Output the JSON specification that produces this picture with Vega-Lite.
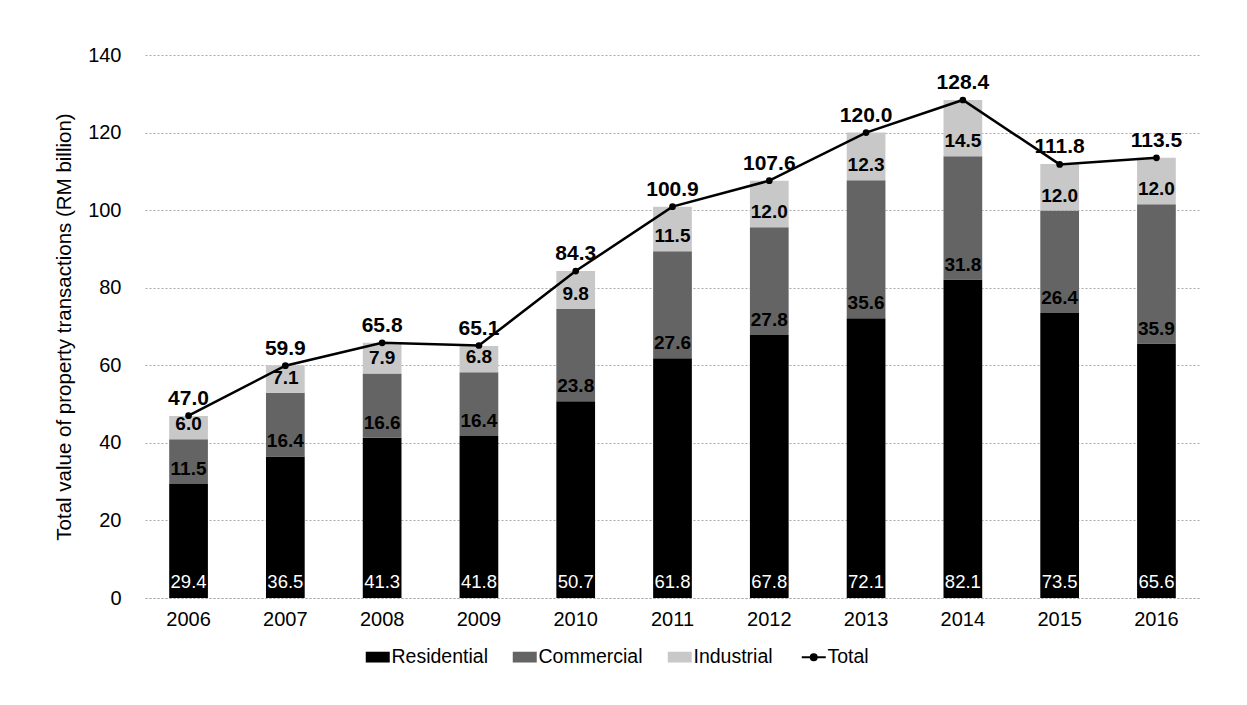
{
  "$schema": "https://vega.github.io/schema/vega-lite/v6.json",
  "width": 1055,
  "height": 543,
  "autosize": {"type": "none"},
  "padding": {"left": 145, "top": 55, "right": 47, "bottom": 107},
  "background": "white",
  "config": {
    "font": "Liberation Sans",
    "view": {"stroke": null},
    "axis": {"labelFont": "Liberation Sans", "titleFont": "Liberation Sans", "labelColor": "#000", "titleColor": "#000"}
  },
  "datasets": {
    "parts": [
      {"year": "2006", "type": "Residential", "value": 29.4},
      {"year": "2006", "type": "Commercial", "value": 11.5},
      {"year": "2006", "type": "Industrial", "value": 6.0},
      {"year": "2007", "type": "Residential", "value": 36.5},
      {"year": "2007", "type": "Commercial", "value": 16.4},
      {"year": "2007", "type": "Industrial", "value": 7.1},
      {"year": "2008", "type": "Residential", "value": 41.3},
      {"year": "2008", "type": "Commercial", "value": 16.6},
      {"year": "2008", "type": "Industrial", "value": 7.9},
      {"year": "2009", "type": "Residential", "value": 41.8},
      {"year": "2009", "type": "Commercial", "value": 16.4},
      {"year": "2009", "type": "Industrial", "value": 6.8},
      {"year": "2010", "type": "Residential", "value": 50.7},
      {"year": "2010", "type": "Commercial", "value": 23.8},
      {"year": "2010", "type": "Industrial", "value": 9.8},
      {"year": "2011", "type": "Residential", "value": 61.8},
      {"year": "2011", "type": "Commercial", "value": 27.6},
      {"year": "2011", "type": "Industrial", "value": 11.5},
      {"year": "2012", "type": "Residential", "value": 67.8},
      {"year": "2012", "type": "Commercial", "value": 27.8},
      {"year": "2012", "type": "Industrial", "value": 12.0},
      {"year": "2013", "type": "Residential", "value": 72.1},
      {"year": "2013", "type": "Commercial", "value": 35.6},
      {"year": "2013", "type": "Industrial", "value": 12.3},
      {"year": "2014", "type": "Residential", "value": 82.1},
      {"year": "2014", "type": "Commercial", "value": 31.8},
      {"year": "2014", "type": "Industrial", "value": 14.5},
      {"year": "2015", "type": "Residential", "value": 73.5},
      {"year": "2015", "type": "Commercial", "value": 26.4},
      {"year": "2015", "type": "Industrial", "value": 12.0},
      {"year": "2016", "type": "Residential", "value": 65.6},
      {"year": "2016", "type": "Commercial", "value": 35.9},
      {"year": "2016", "type": "Industrial", "value": 12.0}
    ],
    "totals": [
      {"year": "2006", "total": 47.0},
      {"year": "2007", "total": 59.9},
      {"year": "2008", "total": 65.8},
      {"year": "2009", "total": 65.1},
      {"year": "2010", "total": 84.3},
      {"year": "2011", "total": 100.9},
      {"year": "2012", "total": 107.6},
      {"year": "2013", "total": 120.0},
      {"year": "2014", "total": 128.4},
      {"year": "2015", "total": 111.8},
      {"year": "2016", "total": 113.5}
    ]
  },
  "layer": [
    {
      "data": {"name": "parts"},
      "transform": [
        {"calculate": "indexof(['Residential','Commercial','Industrial'], datum.type)", "as": "ord"},
        {"stack": "value", "groupby": ["year"], "sort": [{"field": "ord", "order": "ascending"}], "as": ["v0", "v1"]}
      ],
      "layer": [
        {
          "mark": {"type": "bar"},
          "encoding": {
            "x": {
              "field": "year", "type": "ordinal",
              "scale": {"paddingInner": 0.6, "paddingOuter": 0.25},
              "axis": {"title": null, "labelAngle": 0, "labelFontSize": 20, "labelPadding": 11, "ticks": false, "domainColor": "#aaaaaa", "domainDash": [2, 2], "domainWidth": 1}
            },
            "y": {
              "field": "v1", "type": "quantitative",
              "scale": {"domain": [0, 140]},
              "axis": {
                "title": "Total value of property transactions (RM billion)",
                "titleFontSize": 20.5, "titleFontWeight": "normal", "titlePadding": 13,
                "labelFontSize": 20, "labelPadding": 24, "ticks": false, "domain": false,
                "values": [0, 20, 40, 60, 80, 100, 120, 140],
                "gridColor": "#aaaaaa", "gridDash": [2, 2], "gridWidth": 1
              }
            },
            "y2": {"field": "v0"},
            "color": {
              "field": "type", "type": "nominal",
              "scale": {"domain": ["Residential", "Commercial", "Industrial", "Total"], "range": ["#000000", "#646464", "#c8c8c8", "#000000"]},
              "legend": {
                "title": null, "orient": "none", "direction": "horizontal",
                "legendX": 223, "legendY": 592,
                "labelFontSize": 19.5, "labelFont": "Liberation Sans", "labelColor": "#000",
                "symbolSize": 576, "columnPadding": 24, "labelOffset": 4,
                "encode": {
                  "symbols": {
                    "update": {
                      "shape": {"signal": "datum.value === 'Total' ? 'M-1,0H1M-0.25,0A0.25,0.25 0 1 1 0.25,0A0.25,0.25 0 1 1 -0.25,0Z' : 'M-1,-0.45H1V0.45H-1Z'"},
                      "stroke": {"value": "#000000"},
                      "strokeWidth": {"signal": "datum.value === 'Total' ? 2 : 0"},
                      "opacity": {"value": 1}
                    }
                  }
                }
              }
            }
          }
        },
        {
          "transform": [{"filter": "datum.type === 'Residential'"}],
          "mark": {"type": "text", "baseline": "bottom", "dy": -6, "fontSize": 18.5, "color": "white", "font": "Liberation Sans"},
          "encoding": {
            "x": {"field": "year", "type": "ordinal"},
            "y": {"field": "v0", "type": "quantitative"},
            "text": {"field": "value", "type": "quantitative", "format": ".1f"}
          }
        },
        {
          "transform": [{"filter": "datum.type !== 'Residential'"}],
          "mark": {"type": "text", "baseline": "bottom", "dy": -5, "fontSize": 19, "fontWeight": "bold", "color": "black", "font": "Liberation Sans"},
          "encoding": {
            "x": {"field": "year", "type": "ordinal"},
            "y": {"field": "v0", "type": "quantitative"},
            "text": {"field": "value", "type": "quantitative", "format": ".1f"}
          }
        }
      ]
    },
    {
      "data": {"name": "totals"},
      "layer": [
        {
          "mark": {"type": "line", "color": "black", "strokeWidth": 2.5, "point": {"filled": true, "color": "black", "size": 45}},
          "encoding": {
            "x": {"field": "year", "type": "ordinal"},
            "y": {"field": "total", "type": "quantitative"}
          }
        },
        {
          "mark": {"type": "text", "baseline": "bottom", "dy": -7, "fontSize": 21, "fontWeight": "bold", "color": "black", "font": "Liberation Sans"},
          "encoding": {
            "x": {"field": "year", "type": "ordinal"},
            "y": {"field": "total", "type": "quantitative"},
            "text": {"field": "total", "type": "quantitative", "format": ".1f"}
          }
        }
      ]
    }
  ]
}
